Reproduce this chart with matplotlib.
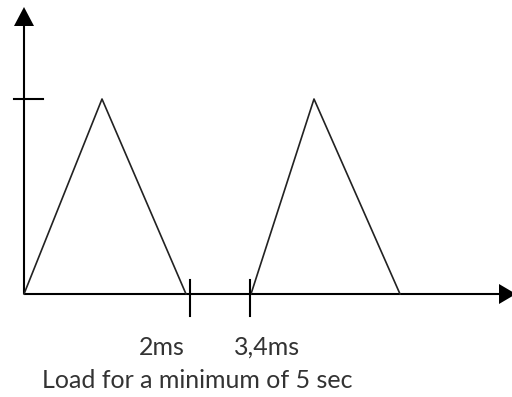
import matplotlib
matplotlib.use("Agg")
import matplotlib.pyplot as plt

# waveform points (x in px-like units from origin, y normalised to peak)
wave_x = [0, 78, 162, 227, 290, 376]
wave_y = [0, 1, 0, 0, 1, 0]
tick_x = [166, 226]
tick_labels = ["2ms", "3,4ms"]
label_x = [138, 243]
caption = "Load for a minimum of 5 sec"

fig = plt.figure(figsize=(5.12, 3.97), dpi=100)
ax = fig.add_axes([0, 0, 1, 1])
ax.set_xlim(-24, 488)
ax.set_ylim(-103 / 195, 294 / 195)
ax.axis("off")

sy = 1 / 195  # one pixel in y units
lw_axis = 1.5
col = "black"

# axes lines
ax.plot([0, 0], [0, 268 * sy], color=col, lw=lw_axis, solid_capstyle="butt")
ax.plot([0, 476], [0, 0], color=col, lw=lw_axis, solid_capstyle="butt")
# arrow heads
ax.fill([-10, 10, 0], [268 * sy, 268 * sy, 287 * sy], color=col, lw=0)
ax.fill([475, 475, 492], [10 * sy, -10 * sy, 0], color=col, lw=0)

# y tick at peak level
ax.plot([-10, 19], [1, 1], color=col, lw=lw_axis)

# triangles
ax.plot(wave_x[:3], wave_y[:3], color="#222222", lw=1.2)
ax.plot(wave_x[3:], wave_y[3:], color="#222222", lw=1.2)

# time ticks
for tx in tick_x:
    ax.plot([tx, tx], [-22 * sy, 14 * sy], color=col, lw=lw_axis)

font = ["Lato", "DejaVu Sans"]
for lx, lab in zip(label_x, tick_labels):
    ax.text(lx, -61 * sy, lab, ha="center", va="baseline",
            fontsize=18, family=font, color="#333333")
ax.text(173, -94 * sy, caption, ha="center", va="baseline",
        fontsize=18, family=font, color="#333333")

fig.savefig("out.png", dpi=100)
